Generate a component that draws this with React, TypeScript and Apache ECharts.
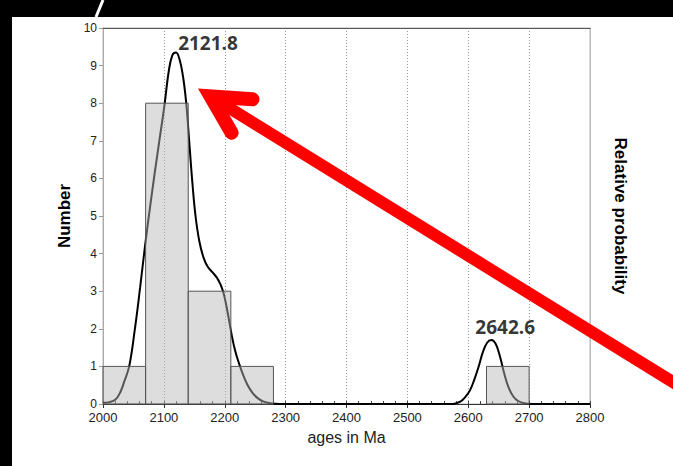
import React, { useEffect, useRef } from "react";
import * as echarts from "echarts";

// Histogram bins (ages in Ma) and counts
const binStart = [2000, 2070, 2140, 2210, 2630];
const binEnd = [2070, 2140, 2210, 2280, 2700];
const binCount = [1, 8, 3, 1, 1];

// Relative probability curve (in "Number" units)
const curveAges = [
  2000, 2010, 2020, 2028, 2035, 2043, 2052, 2061, 2069, 2077, 2085, 2093, 2101,
  2108, 2114, 2120, 2126, 2132, 2137, 2142, 2147, 2152, 2158, 2165, 2172,
  2180, 2187, 2193, 2198, 2204, 2211, 2217, 2223, 2230, 2237, 2245, 2253, 2263,
  2275, 2290, 2575, 2587, 2595, 2603, 2610, 2617, 2624, 2631, 2638, 2645, 2652,
  2659, 2666, 2674, 2682, 2692, 2705, 2800,
];
const curveValues = [
  0.03, 0.05, 0.11, 0.3, 0.6, 1.0, 1.95, 3.1, 4.2, 5.2, 6.15, 7.05, 7.95,
  8.85, 9.28, 9.35, 9.15, 8.65, 7.95, 6.9, 5.85, 5.0, 4.35, 3.9, 3.65,
  3.5, 3.36, 3.18, 2.95, 2.5, 1.87, 1.42, 1.1, 0.78, 0.52, 0.31, 0.17, 0.07,
  0.02, 0, 0, 0.06, 0.18, 0.37, 0.65, 0.99, 1.38, 1.63, 1.7, 1.6, 1.27,
  0.82, 0.45, 0.2, 0.08, 0.02, 0, 0,
];

// Peak labels
const peakAges = [2121.8, 2642.6];
const peakValues = [9.35, 1.7];
const peakTexts = ["2121.8", "2642.6"];

const xTicks = { min: 2000, max: 2800, interval: 100 };
const yTicks = { min: 0, max: 10, interval: 1 };

export default function App() {
  const ref = useRef<HTMLDivElement>(null);
  useEffect(() => {
    if (!ref.current) return;
    const chart = echarts.init(ref.current, null, { renderer: "svg" });
    const bins = binStart.map((s, i) => [s, binEnd[i], binCount[i]]);
    const curve = curveAges.map((a, i) => [a, curveValues[i]]);
    const font = "'Liberation Sans', Arial, sans-serif";
    const peakLabelStyle = {
      fontFamily: "'Open Sans', sans-serif",
      fontWeight: 700, fontSize: 19, color: "#000",
    };

    // arrow geometry (annotation)
    const vx = 210.6, vy = 96.4;
    const option: any = {
      animation: false,
      backgroundColor: "#ffffff",
      textStyle: { fontFamily: font },
      grid: {
        left: 103, right: 83, top: 28, bottom: 62,
        show: true, borderColor: "#b8b8b8", borderWidth: 1,
      },
      xAxis: [
        {
          type: "value", position: "bottom",
          min: xTicks.min, max: xTicks.max, interval: xTicks.interval,
          name: "ages in Ma", nameLocation: "middle", nameGap: 25,
          nameTextStyle: { fontSize: 16, color: "#222", fontFamily: font },
          axisLine: { show: true, lineStyle: { color: "#333", width: 1 } },
          axisTick: { show: true, inside: false, length: 4, lineStyle: { color: "#333" } },
          axisLabel: {
            show: true, fontSize: 13, color: "#222", margin: 7, fontFamily: font,
            formatter: (v: number) => String(v),
          },
          splitLine: { show: true, lineStyle: { color: "#999", type: [1, 2], width: 1 } },
        },
        {
          type: "value", position: "bottom",
          min: xTicks.min, max: xTicks.max, interval: 20,
          axisLine: { show: false },
          axisTick: { show: true, inside: true, length: 3, lineStyle: { color: "#444" } },
          axisLabel: { show: false },
          splitLine: { show: false },
        },
        {
          type: "value", position: "top",
          min: xTicks.min, max: xTicks.max, interval: xTicks.interval,
          axisLine: { show: true, lineStyle: { color: "#555", width: 1 } },
          axisTick: { show: false },
          axisLabel: { show: false },
          splitLine: { show: false },
        },
      ],
      yAxis: [
        {
          type: "value", position: "left",
          min: yTicks.min, max: yTicks.max, interval: yTicks.interval,
          name: "Number", nameLocation: "middle", nameGap: 30, nameRotate: 90,
          nameTextStyle: { fontSize: 17, fontWeight: "bold", color: "#000", fontFamily: font },
          axisLine: { show: true, lineStyle: { color: "#aaa", width: 1 } },
          axisTick: { show: true, inside: false, length: 4, lineStyle: { color: "#999" } },
          axisLabel: { show: true, fontSize: 12, color: "#222", margin: 6, fontFamily: font },
          splitLine: { show: false },
        },
        {
          type: "value", position: "right",
          min: yTicks.min, max: yTicks.max, interval: yTicks.interval,
          name: "Relative probability", nameLocation: "middle", nameGap: 22, nameRotate: -90,
          nameTextStyle: { fontSize: 17, fontWeight: "bold", color: "#000", fontFamily: font },
          axisLine: { show: true, lineStyle: { color: "#bbb", width: 1 } },
          axisTick: { show: false },
          axisLabel: { show: false },
          splitLine: { show: false },
        },
      ],
      series: [
        {
          type: "line",
          xAxisIndex: 0, yAxisIndex: 0,
          data: curve,
          smooth: 0.4,
          showSymbol: false,
          lineStyle: { color: "#000", width: 2 },
          z: 2,
        },
        {
          type: "custom",
          xAxisIndex: 0, yAxisIndex: 0,
          data: bins,
          encode: { x: [0, 1], y: 2 },
          z: 3,
          renderItem: (params: any, api: any) => {
            const s = api.coord([api.value(0), api.value(2)]);
            const e = api.coord([api.value(1), 0]);
            return {
              type: "rect",
              shape: { x: s[0], y: s[1], width: e[0] - s[0], height: e[1] - s[1] },
              style: { fill: "rgba(182,182,182,0.47)", stroke: "#555", lineWidth: 1 },
            };
          },
        },
        {
          type: "scatter",
          xAxisIndex: 0, yAxisIndex: 0,
          symbolSize: 0,
          z: 4,
          data: peakAges.map((a, i) => ({
            value: [a, peakValues[i]],
            label: i === 0
              ? { show: true, position: "right", distance: 1, offset: [0, -9], formatter: peakTexts[i], ...peakLabelStyle }
              : { show: true, position: "top", distance: 4, offset: [11, 0], formatter: peakTexts[i], ...peakLabelStyle },
          })),
          label: peakLabelStyle,
          emphasis: { disabled: true },
        },
      ],
      graphic: [
        { type: "rect", shape: { x: 0, y: 0, width: 673, height: 17 }, style: { fill: "#000" }, z: 100 },
        { type: "rect", shape: { x: 0, y: 0, width: 12, height: 466 }, style: { fill: "#000" }, z: 100 },
        { type: "line", shape: { x1: 103, y1: 0, x2: 96, y2: 17 }, style: { stroke: "#fff", lineWidth: 3 }, z: 101 },
        {
          type: "line",
          shape: { x1: vx, y1: vy, x2: 720, y2: vy + (720 - vx) * 0.618 },
          style: { stroke: "#ff0000", lineWidth: 12 },
          z: 100,
        },
        {
          type: "polyline",
          shape: { points: [[252.5, 99.3], [vx, vy], [231.6, 132.8]] },
          style: { stroke: "#ff0000", lineWidth: 14, lineCap: "round", lineJoin: "miter", miterLimit: 10, fill: null },
          z: 100,
        },
      ],
    };
    chart.setOption(option);
    return () => chart.dispose();
  }, []);
  return (
    <div
      ref={ref}
      style={{ position: "fixed", left: 0, top: 0, width: 673, height: 466 }}
    />
  );
}
